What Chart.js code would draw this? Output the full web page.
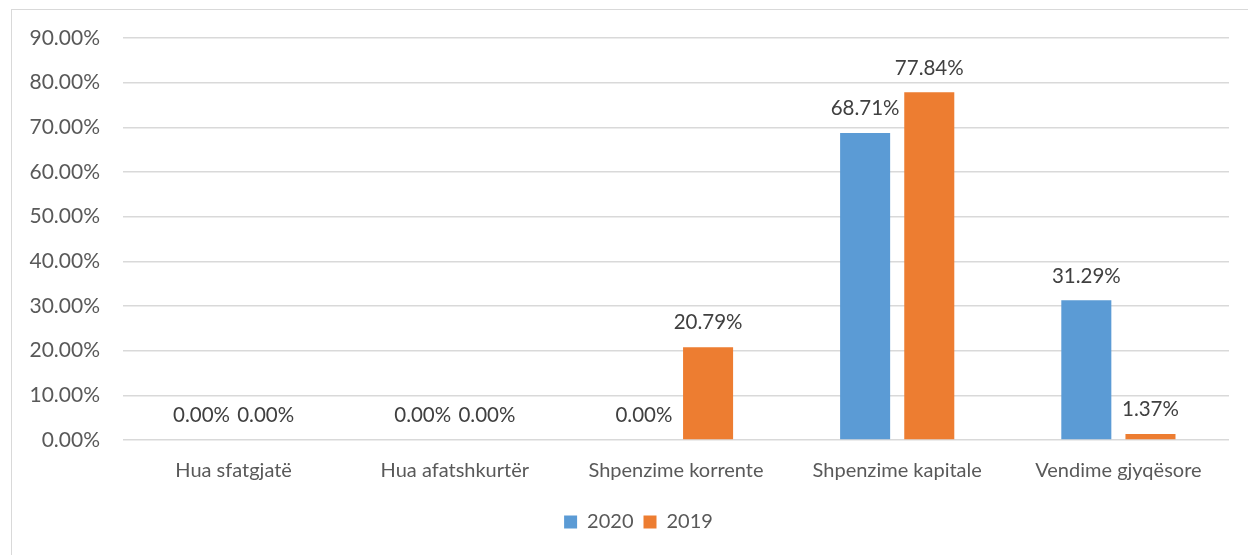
<!DOCTYPE html>
<html>
<head>
<meta charset="utf-8">
<script src="https://cdn.jsdelivr.net/npm/chart.js@4/dist/chart.umd.min.js"></script>
<style>
  html, body { margin: 0; padding: 0; background: #ffffff; }
  #frame {
    position: absolute; left: 11px; top: 9px;
    width: 1237px; height: 546px;
    border-top: 1px solid #d9d9d9; border-left: 1px solid #d9d9d9;
  }
  #chart { display: block; }
</style>
</head>
<body>
<div id="frame"><canvas id="chart" width="1236" height="545"></canvas></div>
<script>
// Kategoritë dhe vlerat (%)
const categories = ["Hua sfatgjatë", "Hua afatshkurtër", "Shpenzime korrente", "Shpenzime kapitale", "Vendime gjyqësore"];
const values2020 = [0, 0, 0, 68.71, 31.29];
const values2019 = [0, 0, 20.79, 77.84, 1.37];
const seriesNames = ["2020", "2019"];
const seriesColors = ["#5B9BD5", "#ED7D31"];

const FONT = "Lato, 'Open Sans', sans-serif";
const TEXT = "#595959";

// Etiketat e vlerave mbi shtyllat
const valueLabels = {
  id: "valueLabels",
  afterLayout(chart) {
    // mos i pre etiketat e boshtit y
    chart.scales.y.left = 0;
  },
  afterDatasetsDraw(chart) {
    const ctx = chart.ctx;
    ctx.save();
    ctx.font = "20.5px " + FONT;
    ctx.fillStyle = "#404040";
    ctx.textAlign = "center";
    ctx.textBaseline = "bottom";
    chart.data.datasets.forEach((ds, i) => {
      chart.getDatasetMeta(i).data.forEach((bar, j) => {
        ctx.fillText(ds.data[j].toFixed(2) + "%", bar.x, bar.y - 14);
      });
    });
    ctx.restore();
  },
};

new Chart(document.getElementById("chart").getContext("2d"), {
  type: "bar",
  data: {
    labels: categories,
    datasets: [
      { label: seriesNames[0], data: values2020, backgroundColor: seriesColors[0] },
      { label: seriesNames[1], data: values2019, backgroundColor: seriesColors[1] },
    ],
  },
  options: {
    responsive: false,
    animation: false,
    categoryPercentage: 0.58,
    barPercentage: 0.78,
    layout: { padding: { left: 36, right: 19, top: 28, bottom: 13 } },
    scales: {
      x: {
        grid: { display: false },
        border: { display: false },
        ticks: { color: TEXT, font: { family: FONT, size: 20 }, padding: 11 },
        afterFit(scale) { scale.height = 62; },
      },
      y: {
        min: 0,
        max: 90,
        ticks: {
          stepSize: 10,
          color: TEXT,
          font: { family: FONT, size: 21 },
          padding: 1,
          callback: (v) => v.toFixed(2) + "%",
        },
        grid: {
          color: "#d9d9d9",
          lineWidth: 1.5,
          drawTicks: true,
          tickLength: 22,
          tickColor: "rgba(0,0,0,0)",
        },
        border: { display: false },
        afterFit(scale) { scale.width = 75; },
      },
    },
    plugins: {
      legend: {
        position: "bottom",
        labels: {
          color: TEXT,
          font: { family: FONT, size: 20 },
          boxWidth: 13,
          boxHeight: 13,
          padding: 10,
        },
      },
      tooltip: { enabled: false },
    },
  },
  plugins: [valueLabels],
});
</script>
</body>
</html>
